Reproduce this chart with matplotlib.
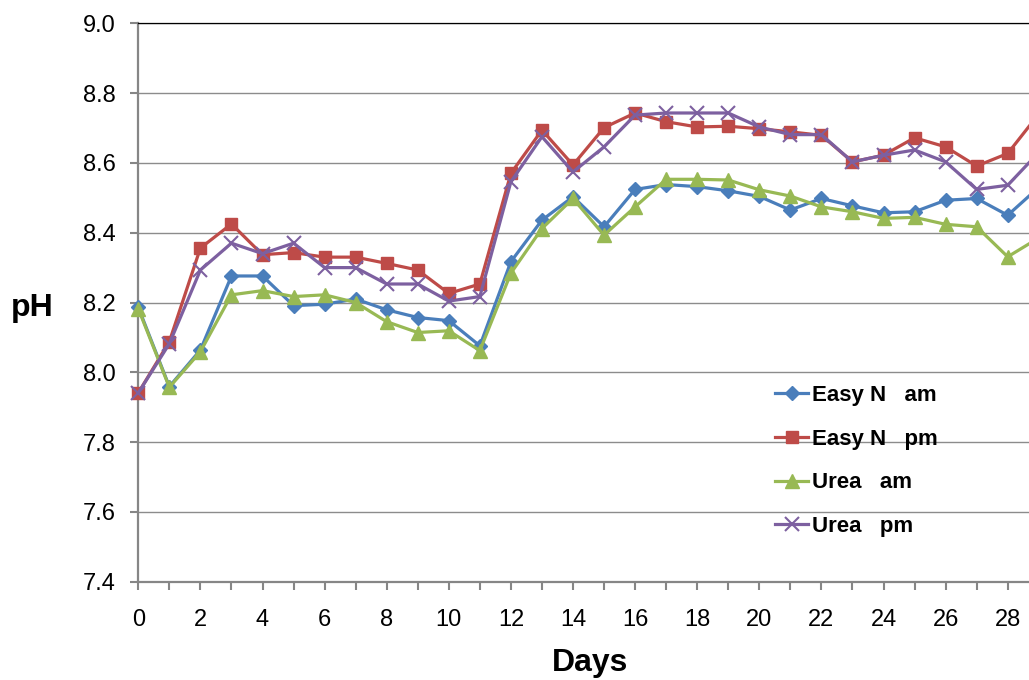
import matplotlib
matplotlib.use("Agg")
import matplotlib.pyplot as plt
from matplotlib.ticker import MultipleLocator, FixedLocator

plt.rcParams['font.family'] = ['Liberation Sans', 'DejaVu Sans']

days = list(range(0, 30))
easyn_am = [8.186, 7.959, 8.064, 8.276, 8.276, 8.191, 8.195, 8.210, 8.179, 8.157,
            8.148, 8.076, 8.317, 8.436, 8.503, 8.417, 8.524, 8.538, 8.532, 8.520,
            8.504, 8.465, 8.498, 8.477, 8.457, 8.460, 8.493, 8.498, 8.450, 8.530]
easyn_pm = [7.941, 8.088, 8.356, 8.425, 8.337, 8.343, 8.330, 8.330, 8.312, 8.293,
            8.226, 8.253, 8.570, 8.694, 8.594, 8.701, 8.743, 8.718, 8.703, 8.705,
            8.698, 8.689, 8.679, 8.603, 8.622, 8.672, 8.646, 8.591, 8.627, 8.740]
urea_am = [8.182, 7.957, 8.059, 8.222, 8.234, 8.217, 8.222, 8.200, 8.145, 8.114,
           8.119, 8.062, 8.284, 8.412, 8.498, 8.393, 8.474, 8.553, 8.553, 8.551,
           8.523, 8.505, 8.474, 8.460, 8.441, 8.444, 8.424, 8.417, 8.331, 8.385]
urea_pm = [7.941, 8.082, 8.293, 8.370, 8.340, 8.370, 8.300, 8.300, 8.253, 8.253,
           8.204, 8.217, 8.546, 8.675, 8.574, 8.646, 8.737, 8.743, 8.743, 8.743,
           8.703, 8.681, 8.681, 8.603, 8.622, 8.637, 8.603, 8.524, 8.536, 8.630]

labels = ["Easy N   am", "Easy N   pm", "Urea   am", "Urea   pm"]
x_tick_labels = list(range(0, 29, 2))
colors = ["#4A7EBB", "#BE4B48", "#98B954", "#7D60A0"]
markers = ["D", "s", "^", "x"]
msizes = [7.5, 8.5, 9.5, 9.5]

W, H = 1029, 680
fig = plt.figure(figsize=(W / 100, H / 100), dpi=100)
ax = fig.add_axes([138.3 / W, (H - 581.7) / H, 30 * 31.05 / W, (581.7 - 23.3) / H])

series = [easyn_am, easyn_pm, urea_am, urea_pm]
for vals, lab, c, m, ms in zip(series, labels, colors, markers, msizes):
    ax.plot(days, vals, color=c, lw=2.3, marker=m, ms=ms, mew=1.5 if m == "x" else 1,
            mfc=c, mec=c, label=lab, clip_on=False, zorder=3)

ax.set_xlim(0, 30)
ax.set_ylim(7.4, 9.0)
ax.xaxis.set_major_locator(FixedLocator(x_tick_labels))
ax.xaxis.set_minor_locator(MultipleLocator(1))
ax.yaxis.set_major_locator(MultipleLocator(0.2))
ax.yaxis.set_major_formatter(plt.FuncFormatter(lambda v, p: f"{v:.1f}"))

ax.grid(axis="y", color="#8C8C8C", lw=1.0)
ax.set_axisbelow(True)
ax.spines["right"].set_visible(False)
ax.spines["top"].set_color("black")
ax.spines["top"].set_linewidth(0.9)
for s in ["left", "bottom"]:
    ax.spines[s].set_color("#868686")
    ax.spines[s].set_linewidth(1.6)

ax.tick_params(axis="both", which="both", direction="out", length=5.5, width=1.5,
               color="#868686", labelsize=17)
ax.tick_params(axis="y", pad=11)
ax.tick_params(axis="x", pad=14)
ax.tick_params(axis="x", which="minor", labelbottom=False)

fig.text(590 / W, 1 - 663 / H, "Days", ha="center", va="center",
         fontsize=23, fontweight="bold")
fig.text(32 / W, 1 - 308 / H, "pH", ha="center", va="center",
         fontsize=23, fontweight="bold")

leg = ax.legend(loc="upper left", bbox_to_anchor=(775 / W, 1 - 385 / H),
                bbox_transform=fig.transFigure, frameon=False,
                prop={"weight": "bold", "size": 16}, handlelength=1.5,
                handletextpad=0.15, labelspacing=1.02, borderpad=0, borderaxespad=0)

fig.savefig("out.png", dpi=100)
